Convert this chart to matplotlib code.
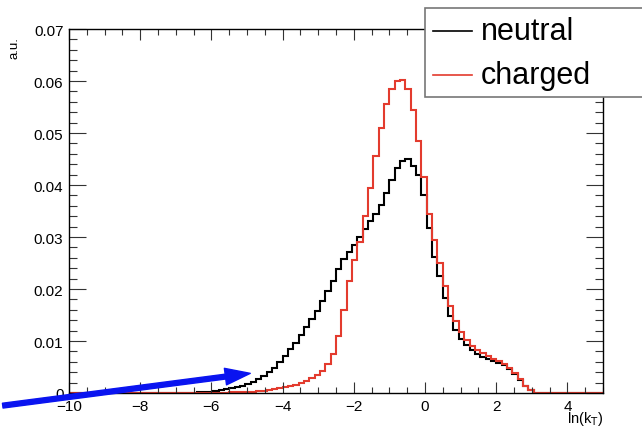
import numpy as np
import matplotlib
matplotlib.use('Agg')
import matplotlib.pyplot as plt
from matplotlib.patches import Rectangle, FancyArrowPatch
from matplotlib.lines import Line2D
from matplotlib.ticker import MultipleLocator, FuncFormatter

plt.rcParams['font.family'] = ['Liberation Sans', 'DejaVu Sans']

# histogram: 100 bins from -10 to 5
x_lo = -10.0
x_hi = 5.0
n_bins = 100

neutral = [0.0] * 24 + [
    0.0001, 0.0001, 0.0002, 0.0003, 0.0005, 0.0007, 0.0009, 0.0011, 0.0014, 0.0017,
    0.0021, 0.0026, 0.0032, 0.0040, 0.0049, 0.0060, 0.0072, 0.0085, 0.0097, 0.0111,
    0.0127, 0.0143, 0.0158, 0.0176, 0.0196, 0.0215, 0.0238, 0.0258, 0.0272, 0.0285,
    0.0300, 0.0315, 0.0330, 0.0345, 0.0362, 0.0385, 0.0410, 0.0432, 0.0446, 0.0450,
    0.0437, 0.0420, 0.0380, 0.0318, 0.0262, 0.0225, 0.0182, 0.0148, 0.0122, 0.0104,
    0.0092, 0.0083, 0.0075, 0.0070, 0.0065, 0.0062, 0.0058, 0.0053, 0.0047, 0.0036,
    0.0025, 0.0014, 0.0005,
] + [0.0] * 13

charged = [0.0] * 30 + [
    0.0001, 0.0001, 0.0001, 0.0001, 0.0002, 0.0003, 0.0004, 0.0005, 0.0007, 0.0009,
    0.0011, 0.0013, 0.0016, 0.0019, 0.0023, 0.0028, 0.0035, 0.0042, 0.0055, 0.0075,
    0.0110, 0.0160, 0.0215, 0.0255, 0.0290, 0.0340, 0.0395, 0.0455, 0.0510, 0.0555,
    0.0585, 0.0600, 0.0602, 0.0585, 0.0545, 0.0485, 0.0415, 0.0345, 0.0295, 0.0250,
    0.0205, 0.0168, 0.0138, 0.0117, 0.0102, 0.0090, 0.0082, 0.0076, 0.0071, 0.0066,
    0.0061, 0.0055, 0.0048, 0.0038, 0.0026, 0.0014, 0.0005,
] + [0.0] * 13

labels = ['neutral', 'charged']
colors = ['black', '#e33b2e']

W, H = 642, 427
fig = plt.figure(figsize=(W / 100, H / 100), dpi=100)
ax = fig.add_axes([69 / W, 1 - 394 / H, (603 - 69) / W, (394 - 30) / H])

edges = np.linspace(x_lo, x_hi, n_bins + 1)
ax.stairs(neutral, edges, color=colors[0], lw=1.5, baseline=None)
ax.stairs(charged, edges, color=colors[1], lw=1.5, baseline=None)

ax.set_xlim(x_lo, x_hi)
ax.set_ylim(0, 0.07)

ax.xaxis.set_major_locator(MultipleLocator(2))
ax.xaxis.set_minor_locator(MultipleLocator(0.5))
ax.yaxis.set_major_locator(MultipleLocator(0.01))
ax.yaxis.set_minor_locator(MultipleLocator(0.002))
ax.yaxis.set_major_formatter(FuncFormatter(lambda v, p: '0' if abs(v) < 1e-9 else '%.2f' % v))

ax.tick_params(axis='both', which='both', direction='in', top=True, right=True,
               labelsize=11, width=0.8, color='#333333')
ax.tick_params(axis='y', which='major', length=12, pad=4)
ax.tick_params(axis='y', which='minor', length=5.8)
ax.tick_params(axis='x', which='major', length=8, pad=4)
ax.tick_params(axis='x', which='minor', length=4)
for s in ax.spines.values():
    s.set_linewidth(1.0)

fig.text(15 / W, 1 - 37 / H, 'a.u.', rotation=90, ha='center', va='top', fontsize=9.5)
fig.text(603 / W, 1 - 419 / H, r'ln(k$_{\mathrm{T}}$)', ha='right', va='center', fontsize=10.5)

# legend box (runs off the right edge as in the original)
box = Rectangle((425 / W, 1 - 98 / H), 240 / W, 89 / H, transform=fig.transFigure,
                facecolor='white', edgecolor='#777777', lw=1.2, zorder=5, clip_on=False)
fig.add_artist(box)
for i, (lab, c) in enumerate(zip(labels, colors)):
    yy = 1 - (32 + 44 * i) / H
    fig.add_artist(Line2D([433 / W, 472 / W], [yy, yy], color=c, lw=1.2,
                          transform=fig.transFigure, zorder=6))
    fig.text(481 / W, yy, lab, fontsize=22, va='center', ha='left', zorder=6)

# blue arrow pointing at the neutral tail
arr = FancyArrowPatch((0, 407), (253, 374), transform=None,
                      arrowstyle='simple,head_width=12,head_length=18,tail_width=3.5',
                      mutation_scale=1, color='#0a14f0', zorder=7, clip_on=False)
arr.set_transform(matplotlib.transforms.Affine2D().scale(1, -1).translate(0, H))
fig.add_artist(arr)

fig.savefig('out.png', dpi=100)
